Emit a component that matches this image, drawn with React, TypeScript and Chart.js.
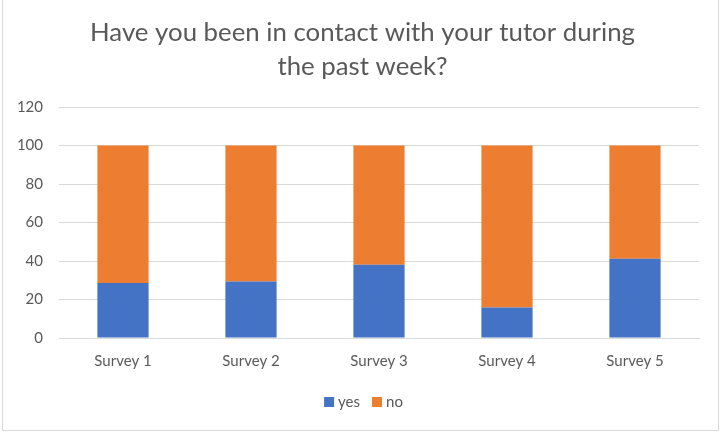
import React, { useEffect, useRef } from "react";
import { Chart, registerables } from "chart.js";

Chart.register(...registerables);

const categories = ["Survey 1", "Survey 2", "Survey 3", "Survey 4", "Survey 5"];
const seriesNames = ["yes", "no"];
const seriesColors = ["#4472C4", "#ED7D31"];
const yesValues = [28.6, 29.4, 38.1, 15.9, 41.2];
const noValues = [71.4, 70.6, 61.9, 84.1, 58.8];
const titleLines = ["Have you been in contact with your tutor during", "the past week?"];

const FONT = "Lato, 'Open Sans', sans-serif";
const TEXT = "#595959";

const titlePlugin = {
  id: "customTitle",
  afterDraw(chart: any) {
    const ctx = chart.ctx;
    ctx.save();
    ctx.fillStyle = TEXT;
    ctx.font = `25.8px ${FONT}`;
    ctx.textAlign = "center";
    ctx.textBaseline = "middle";
    const cx = chart.width / 2;
    titleLines.forEach((t, i) => ctx.fillText(t, cx, 33 + i * 34));

    // legend
    ctx.font = `15px ${FONT}`;
    ctx.textAlign = "left";
    const box = 10, gap = 4, spacing = 12;
    const widths = seriesNames.map((n) => box + gap + ctx.measureText(n).width);
    const total = widths.reduce((a, b) => a + b, 0) + spacing * (seriesNames.length - 1);
    let x = chart.width / 2 + 1 - total / 2;
    const cy = 402;
    seriesNames.forEach((n, i) => {
      ctx.fillStyle = seriesColors[i];
      ctx.fillRect(x, cy - box / 2, box, box);
      ctx.fillStyle = TEXT;
      ctx.fillText(n, x + box + gap, cy);
      x += widths[i] + spacing;
    });
    ctx.restore();
  },
};

export default function App() {
  const ref = useRef<HTMLCanvasElement>(null);
  useEffect(() => {
    document.body.style.margin = "0";
    const chart = new Chart(ref.current!, {
      type: "bar",
      data: {
        labels: categories,
        datasets: [
          { label: seriesNames[0], data: yesValues, backgroundColor: seriesColors[0], categoryPercentage: 1, barPercentage: 0.4 },
          { label: seriesNames[1], data: noValues, backgroundColor: seriesColors[1], categoryPercentage: 1, barPercentage: 0.4 },
        ],
      },
      options: {
        animation: false,
        responsive: false,
        layout: { padding: { left: 0, right: 26, top: 107, bottom: 57 } },
        plugins: {
          title: { display: false },
          tooltip: { enabled: false },
          legend: { display: false },
        },
        scales: {
          x: {
            stacked: true,
            grid: { display: false, drawTicks: false },
            border: { display: true, color: "#d9d9d9" },
            ticks: { color: TEXT, font: { family: FONT, size: 15 }, padding: 14 },
            afterFit: (s: any) => { s.height = 45; },
          },
          y: {
            stacked: true,
            min: 0,
            max: 120,
            grid: { color: "#d9d9d9", drawTicks: false },
            border: { display: false },
            ticks: { stepSize: 20, color: TEXT, font: { family: FONT, size: 15 }, padding: 16 },
            afterFit: (s: any) => { s.width = 59; },
          },
        },
      },
      plugins: [titlePlugin],
    });
    return () => chart.destroy();
  }, []);
  return (
    <div style={{ position: "relative", width: 725, height: 440 }}>
      <canvas ref={ref} width={725} height={440} style={{ display: "block" }} />
      <div style={{ position: "absolute", left: 2, top: -1, width: 715, height: 430, border: "1px solid #d9d9d9", pointerEvents: "none" }} />
    </div>
  );
}
